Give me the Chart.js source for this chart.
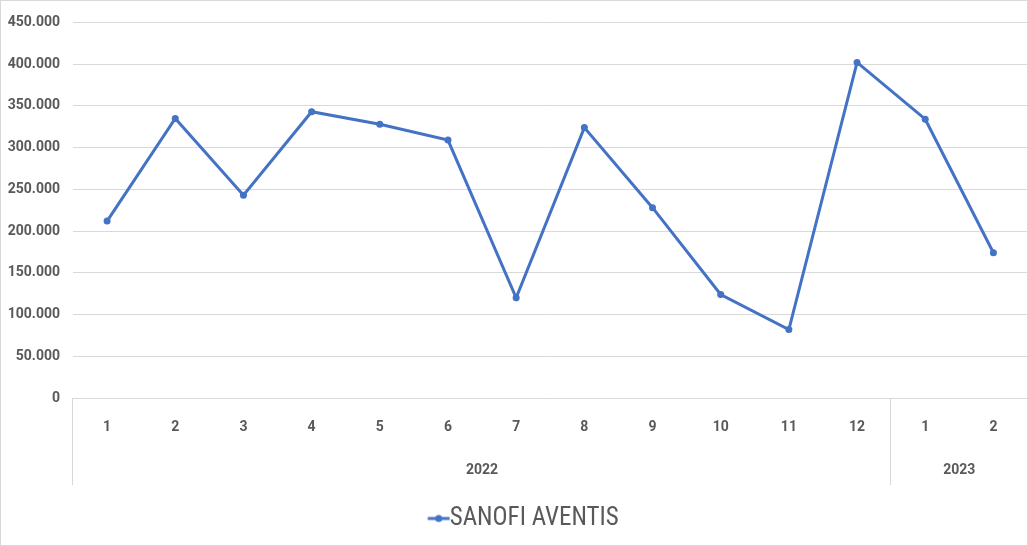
<!DOCTYPE html>
<html>
<head>
<meta charset="utf-8">
<script src="https://cdn.jsdelivr.net/npm/chart.js@4.4.1/dist/chart.umd.min.js"></script>
<style>
  html, body { margin: 0; padding: 0; background: #fff; }
  #wrap { position: relative; width: 1028px; height: 546px; box-sizing: border-box; border: 1px solid #d9d9d9; overflow: hidden; }
  canvas { display: block; }
</style>
</head>
<body>
<div id="wrap"><canvas id="c" width="1030" height="544"></canvas></div>
<script>
// months shown on the axis, grouped by year
var months = ['1', '2', '3', '4', '5', '6', '7', '8', '9', '10', '11', '12', '1', '2'];
var years = ['2022', '2023'];
var monthsPerYear = [12, 2];
var sanofi = [212000, 335000, 243000, 343000, 328000, 309000, 120000, 324000, 228000, 124000, 82000, 402000, 334000, 174000];
var yTicks = [0, 50000, 100000, 150000, 200000, 250000, 300000, 350000, 400000, 450000];

var FONT = 'Roboto, "Liberation Sans", sans-serif';
var LEGEND_FONT = '"Liberation Sans Narrow", "Roboto Condensed", "DejaVu Sans Condensed", sans-serif';
var GRAY = '#595959';
var GRID = '#d9d9d9';
var BLUE = '#4472C4';

function fmt(v) {
  return String(v).replace(/\B(?=(\d{3})+(?!\d))/g, '.');
}

// legend marker: short line with a dot in the middle, running up to the text
var marker = document.createElement('canvas');
marker.width = 50; marker.height = 10;
(function() {
  var g = marker.getContext('2d');
  g.strokeStyle = BLUE; g.lineWidth = 3;
  g.beginPath(); g.moveTo(27.5, 5); g.lineTo(49.5, 5); g.stroke();
  g.fillStyle = BLUE;
  g.beginPath(); g.arc(38.5, 5, 3.5, 0, Math.PI * 2); g.fill();
})();

// year row + separators under the month labels
var yearRow = {
  id: 'yearRow',
  afterDraw: function(chart) {
    var x = chart.scales.x;
    var ctx = chart.ctx;
    var top = x.top;
    var bottom = x.bottom;
    ctx.save();
    ctx.strokeStyle = GRID;
    ctx.lineWidth = 1;
    var start = 0;
    var edges = [-0.5];
    for (var i = 0; i < years.length; i++) {
      var end = start + monthsPerYear[i];
      edges.push(end - 0.5);
      var mid = (x.getPixelForValue(start - 0.5) + x.getPixelForValue(end - 0.5)) / 2;
      ctx.fillStyle = GRAY;
      ctx.font = 'bold 14px ' + FONT;
      ctx.textAlign = 'center';
      ctx.textBaseline = 'middle';
      ctx.fillText(years[i], mid, top + 72);
      start = end;
    }
    edges.forEach(function(e) {
      var px = Math.round(x.getPixelForValue(e)) - 0.5;
      ctx.beginPath();
      ctx.moveTo(px, top);
      ctx.lineTo(px, bottom);
      ctx.stroke();
    });
    ctx.restore();
  }
};

new Chart(document.getElementById('c'), {
  type: 'line',
  data: {
    labels: months,
    datasets: [{
      label: 'SANOFI AVENTIS',
      data: sanofi,
      borderColor: BLUE,
      backgroundColor: BLUE,
      borderWidth: 3,
      pointRadius: 3.5,
      pointHoverRadius: 3.5,
      pointBorderWidth: 0,
      pointStyle: 'circle',
      tension: 0
    }]
  },
  options: {
    responsive: false,
    animation: false,
    devicePixelRatio: 1,
    layout: { padding: { top: 14, right: 0, left: 0, bottom: 4 } },
    plugins: {
      tooltip: { enabled: false },
      legend: {
        position: 'bottom',
        labels: {
          usePointStyle: true,
          pointStyle: marker,
          pointStyleWidth: 24,
          color: GRAY,
          font: { family: LEGEND_FONT, size: 25 },
          padding: 21,
          generateLabels: function(chart) {
            return [{ text: chart.data.datasets[0].label, pointStyle: marker, fontColor: GRAY, datasetIndex: 0, lineWidth: 0 }];
          }
        }
      }
    },
    scales: {
      x: {
        offset: true,
        grid: { display: false, drawOnChartArea: false },
        border: { display: true, color: GRID, width: 1 },
        ticks: { color: GRAY, font: { family: FONT, size: 14, weight: 'bold' }, padding: 13, maxRotation: 0, autoSkip: false },
        afterFit: function(s) { s.height = 87; }
      },
      y: {
        min: 0,
        max: 450000,
        afterBuildTicks: function(s) { s.ticks = yTicks.map(function(v) { return { value: v }; }); },
        grid: { color: GRID, lineWidth: 1, drawTicks: false },
        border: { display: false },
        ticks: {
          color: GRAY,
          font: { family: FONT, size: 14, weight: 'bold' },
          padding: 13,
          callback: function(v) { return fmt(v); }
        },
        afterFit: function(s) { s.width = 72; }
      }
    }
  },
  plugins: [yearRow]
});
</script>
</body>
</html>
